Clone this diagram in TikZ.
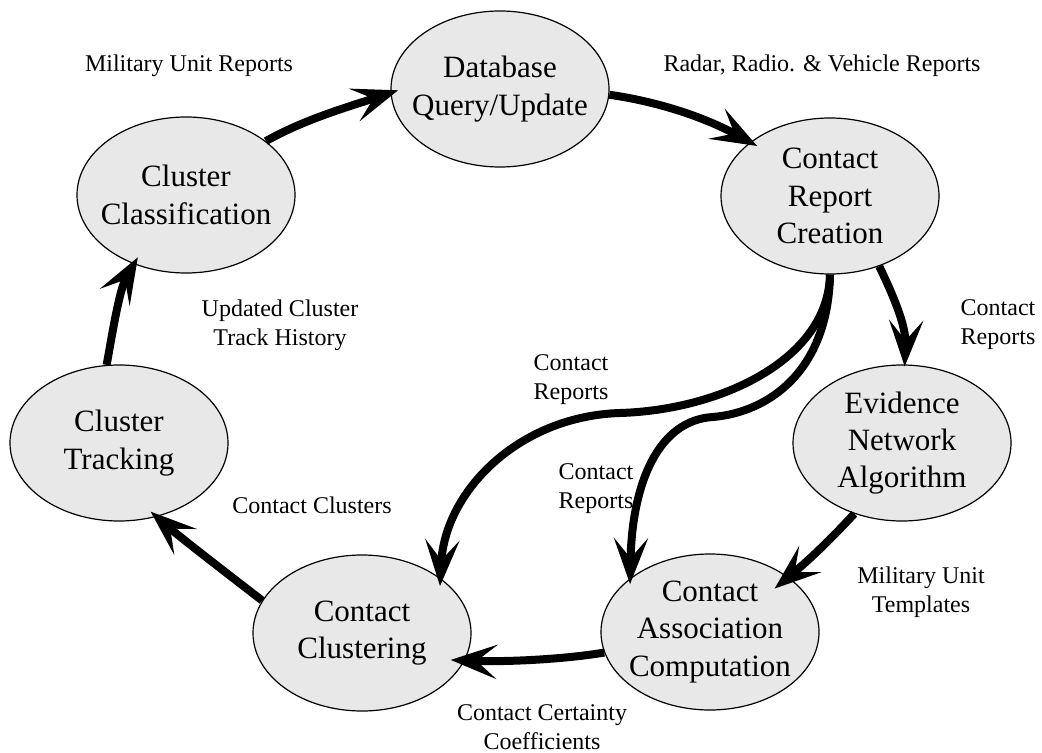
\documentclass[tikz,border=0pt]{standalone}
\usepackage{fontspec}
\setmainfont{Liberation Serif}
\usetikzlibrary{shapes.geometric,arrows.meta}
\definecolor{procgray}{RGB}{232,232,232}
\tikzset{
	proc/.style={ellipse, draw=black, line width=0.6pt, fill=procgray, align=center,
		minimum width=109pt, minimum height=78pt, inner xsep=-6pt, inner ysep=-4pt,
		font=\fontsize{15.5}{18.7}\selectfont},
	lbl/.style={align=center, font=\fontsize{12}{14.5}\selectfont},
	flow/.style={-{Stealth[length=23pt,width=17pt,inset=10pt]}, line width=4pt, shorten >=-4pt}
}

\begin{document}
\begin{tikzpicture}[x=0.5pt,y=0.5pt]
	\useasboundingbox (0,0) rectangle (1042,-753);
	\node at (500,-89) [proc] (db) {Database\\Query/Update};
	\node at (830,-196) [proc] (crc) {Contact\\Report\\Creation};
	\node at (186,-195) [proc] (ccl) {Cluster\\Classification};
	\node at (119,-443) [proc] (ctr) {Cluster\\Tracking};
	\node at (902,-443) [proc] (ena) {Evidence\\Network\\Algorithm};
	\node at (710,-632) [proc] (cac) {Contact\\Association\\Computation};
	\node at (362,-633) [proc] (ccu) {Contact\\Clustering};

	\node at (189,-66) [lbl] (mur) {Military Unit Reports};
	\node at (822,-66) [lbl] (rrv) {Radar, Radio. \& Vehicle Reports};
	\node at (280,-325) [lbl] (uct) {Updated Cluster\\Track History};
	\node at (312,-505) [lbl] (ccs) {Contact Clusters};
	\node at (571,-380) [lbl] (cr1) {Contact\\Reports};
	\node at (596,-489) [lbl] (cr2) {Contact\\Reports};
	\node at (998,-325) [lbl] (cr3) {Contact\\Reports};
	\node at (921,-592) [lbl] (mut) {Military Unit\\Templates};
	\node at (542,-727) [lbl] (ccc) {Contact Certainty\\Coefficients};

	\draw [flow] (ccl.34) .. controls (305,-119) and (351,-106) .. (db.182);
	\draw [flow] (db.-3) .. controls (660,-102) and (706,-118) .. (crc.146);
	\draw [flow, shorten >=-1pt] (crc.-55) .. controls (894,-297) and (906,-326) .. (ena.88);
	\draw [flow] (crc.-90) .. controls (828,-360) and (720,-410) .. (620,-413) .. controls (520,-416) and (445,-490) .. (ccu.35);
	\draw [flow, shorten >=-3pt] (crc.-90) .. controls (828,-370) and (770,-412) .. (713,-417) .. controls (660,-420) and (632,-480) .. (cac.146);
	\draw [flow, shorten >=-9pt] (ena.-124) .. controls (830,-540) and (809,-560) .. (cac.35);
	\draw [flow, shorten >=-7pt] (cac.-169) .. controls (560,-660) and (500,-662) .. (ccu.-15);
	\draw [flow] (ccu.162) .. controls (233,-578) and (181,-538) .. (ctr.-63);
	\draw [flow] (ctr.99) .. controls (112,-336) and (119,-290) .. (ccl.-127);
\end{tikzpicture}
\end{document}
